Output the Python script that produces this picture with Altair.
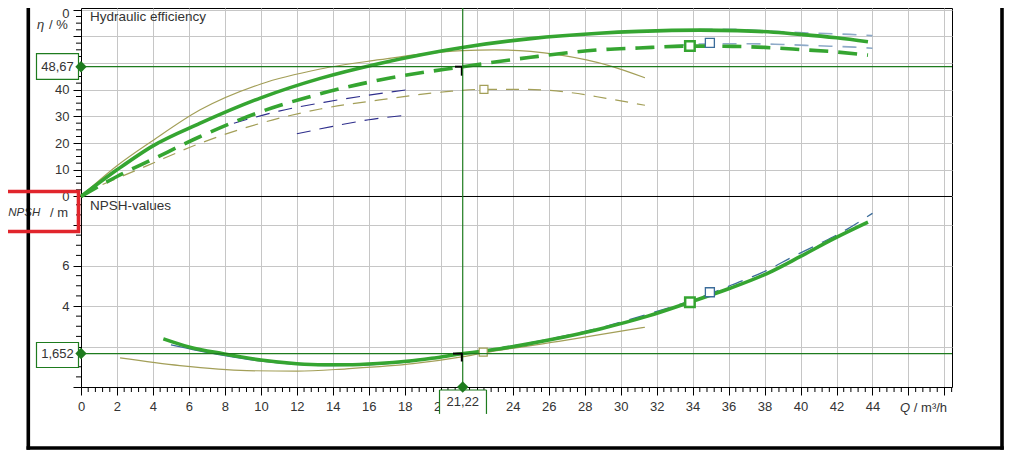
import altair as alt
import pandas as pd

# ---------------- values ----------------
Q_MAX = 48.42
ETA_DOM = [-71.43, 70.68]
NPSH_DOM = [0.0, 18.72]

# hydraulic efficiency  (Q in m3/h, eta in %)
eta_bold_q = [0, 2, 4, 6.6, 10, 13.3, 16.6, 21.2, 25, 28.8, 31, 34.4, 36.5, 38.5, 40, 42, 43.75]
eta_bold_v = [0, 10, 19, 27.4, 37, 44.3, 49.9, 55.9, 59.2, 61.2, 61.9, 62.4, 62.2, 61.6, 60.8, 59.5, 58.0]
eta_bdash_q = [0, 2, 4, 6.6, 10, 13.3, 16.6, 21.22, 25, 28.85, 31, 33.85, 36.2, 38, 40, 41.8, 43.75]
eta_bdash_v = [0, 7.5, 14, 22.4, 31.8, 38.5, 43.7, 48.67, 52.2, 55.0, 55.7, 56.4, 56.3, 55.9, 55.1, 54.3, 53.0]
eta_olive_q = [0, 2, 4, 6.6, 10, 13.3, 16.6, 19, 21.2, 23, 25, 26.5, 28.1, 29.5, 31.35]
eta_olive_v = [0, 11.5, 21, 32.4, 42.2, 47.8, 51.3, 53.5, 54.7, 55.0, 54.4, 53.2, 51.2, 48.8, 44.5]
eta_odash_q = [1.2, 3.65, 6.6, 10, 13.3, 16.6, 20.3, 22.4, 24.6, 26.8, 29.2, 31.35]
eta_odash_v = [4.5, 11.5, 19.9, 27.5, 32.8, 36.2, 39.3, 40.2, 40.2, 39.3, 36.8, 34.2]
eta_navy_a_q = [8.5, 11, 13.5, 16, 18.3]
eta_navy_a_v = [27.5, 32, 35.3, 38, 40.2]
eta_navy_b_q = [12, 14, 16, 18.3]
eta_navy_b_v = [23.5, 26.3, 28.8, 30.6]
eta_blue_a_q = [33, 34.4, 36.2, 38.5, 40.9, 43.3, 44]
eta_blue_a_v = [62.3, 62.6, 62.7, 61.9, 61.2, 60.6, 60.3]
eta_blue_b_q = [33, 35, 37, 39, 41, 43, 44]
eta_blue_b_v = [56.5, 57.3, 57.3, 57.0, 56.5, 56.0, 55.6]
eta_mark_green = [33.85, 56.4]
eta_mark_olive = [22.4, 40.2]
eta_mark_blue = [34.96, 57.6]

# NPSH values (m)
npsh_bold_q = [4.58, 6, 7.91, 10, 12, 13.5, 14.77, 16.5, 18.1, 19.5, 21.07, 23.3, 26, 28.85, 31.5, 33.85, 36, 38.1, 40, 41.8, 43.75]
npsh_bold_v = [2.38, 1.98, 1.64, 1.33, 1.15, 1.1, 1.1, 1.16, 1.27, 1.42, 1.63, 1.89, 2.32, 2.87, 3.5, 4.19, 4.85, 5.59, 6.45, 7.3, 8.14]
npsh_blue_q = [22, 26, 28.85, 31.5, 34.96, 36.2, 38.1, 39.6, 41.1, 42.6, 44]
npsh_blue_v = [1.75, 2.36, 2.92, 3.6, 4.6, 5.05, 5.75, 6.45, 7.1, 7.8, 8.58]
npsh_navy_q = [5, 6.5, 8, 10, 12, 14, 16, 18.3]
npsh_navy_v = [2.08, 1.8, 1.55, 1.28, 1.12, 1.06, 1.1, 1.24]
npsh_olive_q = [2.17, 5.5, 9.21, 12, 14.77, 18.46, 21.25, 22.36, 26.9, 31.35]
npsh_olive_v = [1.44, 1.06, 0.81, 0.78, 0.9, 1.15, 1.5, 1.68, 2.3, 2.95]
npsh_mark_green = [33.85, 4.19]
npsh_mark_olive = [22.36, 1.72]
npsh_mark_blue = [34.96, 4.68]

# operating point
Q_OP = 21.22
ETA_OP = 48.67
NPSH_OP = 1.652

# ticks
x_major = list(range(0, 49, 2))
x_minor = [i * 0.4 for i in range(0, 122) if i % 5 != 0]
eta_major = [0, 10, 20, 30, 40, 50, 60, 70]
eta_minor = [i * 2.5 for i in range(0, 29) if i % 4 != 0]
npsh_major = [0, 2, 4, 6, 8]
npsh_minor = [i * 0.5 for i in range(0, 19) if i % 4 != 0]

# ---------------- styles ----------------
FONT = "Liberation Sans"
GREEN = "#35a531"
DKGREEN = "#1e7b1e"
OLIVE = "#a39f58"
NAVY = "#2e2e8c"
LBLUE = "#8eaac8"
BLUE = "#3b6c9a"
GRID = "#c6c6c6"
TXT = "#333333"
RED = "#e1252c"

xs = alt.Scale(domain=[0, Q_MAX], nice=False, zero=False)
x_axis = alt.Axis(values=x_major, labelExpr="datum.value <= 44 ? datum.label : ''",
                  grid=True, gridColor=GRID, gridWidth=1, tickSize=8, tickColor="black",
                  domainColor="black", labelFont=FONT, labelFontSize=13, labelColor=TXT,
                  labelPadding=5, labelFlush=False, title=None, format="d")
eta_scale = alt.Scale(domain=ETA_DOM, nice=False, zero=False)
eta_axis = alt.Axis(values=eta_major, labelExpr="datum.value <= 40 ? datum.label : ''",
                    grid=True, gridColor=GRID, gridWidth=1, tickSize=8, tickColor="black",
                    domain=False, labelFont=FONT, labelFontSize=13, labelColor=TXT,
                    labelPadding=4, labelFlush=False, title=None, orient="left", format="d")
npsh_scale = alt.Scale(domain=NPSH_DOM, nice=False, zero=False)
npsh_axis = alt.Axis(values=npsh_major,
                     labelExpr="(datum.value == 4 || datum.value == 6) ? datum.label : ''",
                     grid=True, gridColor=GRID, gridWidth=1, tickSize=8, tickColor="black",
                     domain=True, domainColor="black", labelFont=FONT, labelFontSize=13,
                     labelColor=TXT, labelPadding=4, labelFlush=False, title=None,
                     orient="left", format="d")


def X(f="q"):
    return alt.X(f"{f}:Q", scale=xs, axis=x_axis)


def YE(f="v"):
    return alt.Y(f"{f}:Q", scale=eta_scale, axis=eta_axis)


def YN(f="v"):
    return alt.Y(f"{f}:Q", scale=npsh_scale, axis=npsh_axis)


def df(q, v):
    return pd.DataFrame({"q": q, "v": v})


def curve(q, v, Y, **mk):
    return alt.Chart(df(q, v)).mark_line(interpolate="monotone", **mk).encode(x=X(), y=Y())


def square(pt, Y, stroke, size, sw):
    return alt.Chart(df([pt[0]], [pt[1]])).mark_point(
        shape="square", filled=True, fill="white", stroke=stroke, strokeWidth=sw,
        size=size, opacity=1).encode(x=X(), y=Y())


def txt(q, v, Y, text, **mk):
    base = dict(font=FONT, fontSize=13, color=TXT, baseline="middle", align="left")
    base.update(mk)
    return alt.Chart(df([q], [v])).mark_text(text=text, **base).encode(x=X(), y=Y())


one = pd.DataFrame({"a": [0]})
fmt = lambda v, d: f"{v:.{d}f}".replace(".", ",")

# ---------------- efficiency panel ----------------
eta_layer = alt.layer(
    alt.Chart(pd.DataFrame({"v": eta_minor})).mark_rule(color="black", strokeWidth=1)
    .encode(y=YE(), x=alt.value(-5), x2=alt.value(0)),
    alt.Chart(pd.DataFrame({"v": [0]})).mark_rule(color="black", strokeWidth=1).encode(y=YE()),
    curve(eta_olive_q, eta_olive_v, YE, color=OLIVE, strokeWidth=1.2),
    curve(eta_odash_q, eta_odash_v, YE, color=OLIVE, strokeWidth=1.2, strokeDash=[13, 9]),
    curve(eta_navy_a_q, eta_navy_a_v, YE, color=NAVY, strokeWidth=1.1, strokeDash=[14, 9]),
    curve(eta_navy_b_q, eta_navy_b_v, YE, color=NAVY, strokeWidth=1.1, strokeDash=[14, 9]),
    curve(eta_blue_a_q, eta_blue_a_v, YE, color=LBLUE, strokeWidth=1.6, strokeDash=[14, 10]),
    curve(eta_blue_b_q, eta_blue_b_v, YE, color=LBLUE, strokeWidth=1.6, strokeDash=[14, 10]),
    curve(eta_bold_q, eta_bold_v, YE, color=GREEN, strokeWidth=3.6),
    curve(eta_bdash_q, eta_bdash_v, YE, color=GREEN, strokeWidth=3.6, strokeDash=[19, 10]),
    square(eta_mark_olive, YE, OLIVE, 64, 1.2),
    square(eta_mark_blue, YE, BLUE, 81, 1.3),
    square(eta_mark_green, YE, GREEN, 90, 2.5),
    alt.Chart(pd.DataFrame({"v": [ETA_OP]})).mark_rule(color=DKGREEN, strokeWidth=1.2).encode(y=YE()),
    alt.Chart(pd.DataFrame({"q": [20.79], "q2": [Q_OP], "v": [ETA_OP]}))
    .mark_rule(color="black", strokeWidth=2).encode(x=X(), x2="q2:Q", y=YE()),
    alt.Chart(pd.DataFrame({"q": [21.17], "v": [ETA_OP], "v2": [45.3]}))
    .mark_rule(color="black", strokeWidth=2).encode(x=X(), y=YE(), y2="v2:Q"),
    alt.Chart(pd.DataFrame({"v": [53.6], "v2": [43.9]}))
    .mark_rect(fill="white", stroke=DKGREEN, strokeWidth=1.2)
    .encode(x=alt.value(-44.5), x2=alt.value(-2.5), y=YE(), y2="v2:Q"),
    alt.Chart(pd.DataFrame({"v": [ETA_OP]})).mark_text(
        text=fmt(ETA_OP, 2), font=FONT, fontSize=13, color=TXT, align="center", baseline="middle")
    .encode(x=alt.value(-23.5), y=YE()),
    alt.Chart(df([0], [ETA_OP])).mark_point(shape="diamond", filled=True, color=DKGREEN,
                                           size=130, opacity=1).encode(x=X(), y=YE()),
    txt(0.5, 67.3, YE, "Hydraulic efficiency", fontSize=13.5),
    alt.Chart(pd.DataFrame({"v": [68.4]})).mark_text(
        text="0", font=FONT, fontSize=13, color=TXT, align="right", baseline="middle")
    .encode(x=alt.value(-11.5), y=YE()),
    alt.Chart(pd.DataFrame({"v": [64.3]})).mark_text(
        text="η", font=FONT, fontSize=13, fontStyle="italic", color=TXT, align="left", baseline="middle")
    .encode(x=alt.value(-44), y=YE()),
    alt.Chart(pd.DataFrame({"v": [64.3]})).mark_text(
        text="/ %", font=FONT, fontSize=13, color=TXT, align="left", baseline="middle")
    .encode(x=alt.value(-32), y=YE()),
)

# ---------------- NPSH panel ----------------
npsh_layer = alt.layer(
    alt.Chart(pd.DataFrame({"v": npsh_minor})).mark_rule(color="black", strokeWidth=1)
    .encode(y=YN(), x=alt.value(-5), x2=alt.value(0)),
    alt.Chart(pd.DataFrame({"q": x_minor})).mark_rule(color="black", strokeWidth=1)
    .encode(x=X(), y=alt.value(379), y2=alt.value(384)),
    curve(npsh_olive_q, npsh_olive_v, YN, color=OLIVE, strokeWidth=1.2),
    curve(npsh_navy_q, npsh_navy_v, YN, color=BLUE, strokeWidth=1.3),
    curve(npsh_blue_q, npsh_blue_v, YN, color=BLUE, strokeWidth=1.3, strokeDash=[16, 10]),
    curve(npsh_bold_q, npsh_bold_v, YN, color=GREEN, strokeWidth=3.6),
    square(npsh_mark_olive, YN, OLIVE, 64, 1.2),
    square(npsh_mark_blue, YN, BLUE, 81, 1.3),
    square(npsh_mark_green, YN, GREEN, 90, 2.5),
    alt.Chart(pd.DataFrame({"v": [NPSH_OP]})).mark_rule(color=DKGREEN, strokeWidth=1.2).encode(y=YN()),
    alt.Chart(pd.DataFrame({"q": [Q_OP]})).mark_rule(color=DKGREEN, strokeWidth=1.2).encode(x=X()),
    alt.Chart(pd.DataFrame({"q": [20.68], "q2": [Q_OP], "v": [NPSH_OP]}))
    .mark_rule(color="black", strokeWidth=2).encode(x=X(), x2="q2:Q", y=YN()),
    alt.Chart(pd.DataFrame({"q": [21.17], "v": [NPSH_OP], "v2": [1.26]}))
    .mark_rule(color="black", strokeWidth=2).encode(x=X(), y=YN(), y2="v2:Q"),
    alt.Chart(pd.DataFrame({"v": [2.198], "v2": [0.963]}))
    .mark_rect(fill="white", stroke=DKGREEN, strokeWidth=1.2)
    .encode(x=alt.value(-44.5), x2=alt.value(-2.5), y=YN(), y2="v2:Q"),
    alt.Chart(pd.DataFrame({"v": [NPSH_OP]})).mark_text(
        text=fmt(NPSH_OP, 3), font=FONT, fontSize=13, color=TXT, align="center", baseline="middle")
    .encode(x=alt.value(-23.5), y=YN()),
    alt.Chart(df([0], [NPSH_OP])).mark_point(shape="diamond", filled=True, color=DKGREEN,
                                            size=130, opacity=1).encode(x=X(), y=YN()),
    # Q value box under the x axis
    alt.Chart(pd.DataFrame({"q": [19.93], "q2": [22.54], "v": [-0.148], "v2": [-1.33]}))
    .mark_rect(fill="white").encode(x=X(), x2="q2:Q", y=YN(), y2="v2:Q"),
    alt.Chart(pd.DataFrame({"q": [19.93, 22.54], "v": [-0.148, -0.148], "v2": [-1.33, -1.33]}))
    .mark_rule(color=DKGREEN, strokeWidth=1.2).encode(x=X(), y=YN(), y2="v2:Q"),
    alt.Chart(pd.DataFrame({"q": [19.93], "q2": [22.54], "v": [-0.148]}))
    .mark_rule(color=DKGREEN, strokeWidth=1.2).encode(x=X(), x2="q2:Q", y=YN()),
    txt(Q_OP, -0.74, YN, fmt(Q_OP, 2), align="center"),
    alt.Chart(df([Q_OP], [0])).mark_point(shape="diamond", filled=True, color=DKGREEN,
                                         size=130, opacity=1).encode(x=X(), y=YN()),
    txt(0.5, 8.94, YN, "NPSH-values", fontSize=13.5),
    txt(45.53, -1.04, YN, "Q", fontStyle="italic"),
    txt(46.3, -1.04, YN, "/ m³/h"),
    alt.Chart(pd.DataFrame({"v": [8.59]})).mark_text(
        text="NPSH", font=FONT, fontSize=11.5, fontStyle="italic", color=TXT, align="left",
        baseline="middle").encode(x=alt.value(-72.7), y=YN()),
    alt.Chart(pd.DataFrame({"v": [8.59]})).mark_text(
        text="/ m", font=FONT, fontSize=13, color=TXT, align="left", baseline="middle")
    .encode(x=alt.value(-31), y=YN()),
)

# ---------------- page decorations (frame and highlight box) ----------------
deco_layer = alt.layer(
    alt.Chart(one).mark_rule(color="black", strokeWidth=3.6, strokeCap="square")
    .encode(x=alt.value(-52.7), y=alt.value(-10), y2=alt.value(440)),
    alt.Chart(one).mark_rule(color="black", strokeWidth=3.6, strokeCap="square")
    .encode(x=alt.value(-52.7), x2=alt.value(921), y=alt.value(440)),
    alt.Chart(one).mark_rule(color="black", strokeWidth=3.6, strokeCap="square")
    .encode(x=alt.value(921), y=alt.value(-10), y2=alt.value(440)),
    alt.Chart(one).mark_rect(fill="transparent", stroke=RED, strokeWidth=3.6)
    .encode(x=alt.value(-79.5), x2=alt.value(-2.5), y=alt.value(183.5), y2=alt.value(223.5)),
)

chart = alt.layer(eta_layer, npsh_layer, deco_layer).resolve_scale(y="independent").properties(
    width=871, height=379,
    autosize=alt.AutoSizeParams(type="none"),
    padding={"left": 73, "top": 0, "right": 56, "bottom": 66},
).configure_view(stroke="black", strokeWidth=1)

chart.save("out.html", embed_options={"renderer": "svg", "actions": False})
